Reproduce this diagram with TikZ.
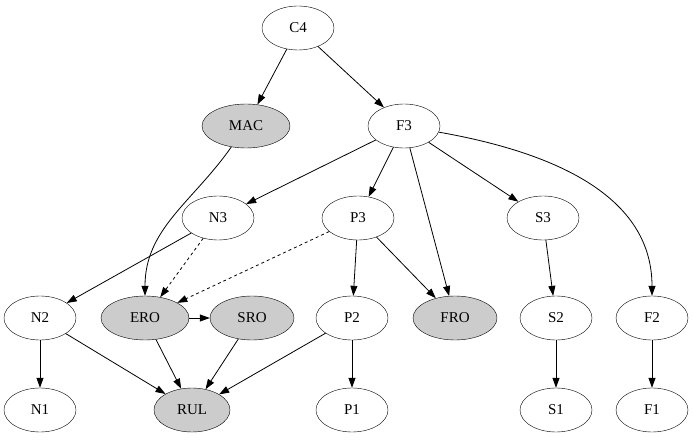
\documentclass[tikz,border=0pt]{standalone}
\usepackage{fontspec}
\setmainfont{Liberation Serif}
\usetikzlibrary{arrows.meta,shapes.geometric}
\begin{document}
\begin{tikzpicture}[x=1pt,y=1pt,
  nd/.style={draw,ellipse,minimum width=72pt,minimum height=44pt,inner sep=0pt,font=\fontsize{15}{17}\selectfont,fill=white},
  gr/.style={nd,fill=lightgray!80},
  >={Triangle[length=10pt,width=7pt]}, every edge/.style={draw,->,line width=0.8pt}]
\useasboundingbox (0,0) rectangle (693,-443);
\node[nd] (C4) at (298,-28) {C4};
\node[gr,minimum width=88pt] (MAC) at (246,-126) {MAC};
\node[nd] (F3) at (404,-126) {F3};
\node[nd] (N3) at (218,-218) {N3};
\node[nd] (P3) at (358,-218) {P3};
\node[nd] (S3) at (543,-218) {S3};
\node[nd] (N2) at (40,-318) {N2};
\node[gr,minimum width=88pt] (ERO) at (145,-318) {ERO};
\node[gr,minimum width=84pt] (SRO) at (252,-318) {SRO};
\node[nd] (P2) at (352,-318) {P2};
\node[gr,minimum width=84pt] (FRO) at (455,-318) {FRO};
\node[nd] (S2) at (556,-318) {S2};
\node[nd] (F2) at (652,-318) {F2};
\node[nd] (N1) at (40,-410) {N1};
\node[gr,minimum width=76pt] (RUL) at (192,-410) {RUL};
\node[nd] (P1) at (352,-410) {P1};
\node[nd] (S1) at (556,-410) {S1};
\node[nd] (F1) at (652,-410) {F1};
\path (C4) edge (MAC) (C4) edge (F3)
 (MAC) edge[out=235,in=90] (ERO)
 (F3) edge (N3) (F3) edge (P3) (F3) edge (FRO) (F3) edge (S3)
 (F3) edge[out=-10,in=90] (F2)
 (N3) edge (N2) (N3) edge[dashed] (ERO) (P3) edge[dashed] (ERO)
 (P3) edge (P2) (P3) edge (FRO) (S3) edge (S2)
 (N2) edge (N1) (N2) edge (RUL) (ERO) edge (SRO) (ERO) edge (RUL)
 (SRO) edge (RUL) (P2) edge (RUL) (P2) edge (P1) (S2) edge (S1) (F2) edge (F1);
\end{tikzpicture}
\end{document}
